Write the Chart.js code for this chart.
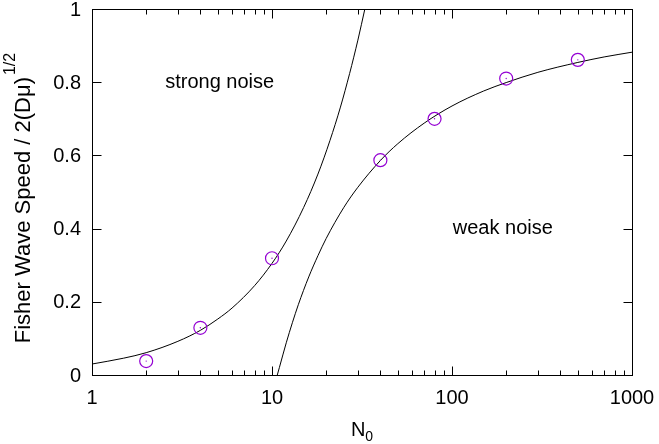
<!DOCTYPE html>
<html>
<head>
<meta charset="utf-8">
<script src="https://cdn.jsdelivr.net/npm/chart.js@4.4.1/dist/chart.umd.min.js"></script>
<style>
  html, body { margin: 0; padding: 0; background: #fff; }
</style>
</head>
<body>
<canvas id="chart" width="659" height="444"></canvas>
<script>
// measured points (purple circles)
const measuredN = [2, 4, 10, 40, 80, 200, 500];
const measuredSpeed = [0.038, 0.129, 0.319, 0.587, 0.700, 0.810, 0.861];

// strong noise curve
const strongN = [1, 1.5, 2, 3, 4, 5, 6, 8, 10, 12, 15, 18, 21, 24, 27, 30, 32.8];
const strongSpeed = [0.030, 0.046, 0.061, 0.092, 0.122, 0.153, 0.183, 0.244, 0.305, 0.366, 0.458, 0.549, 0.641, 0.732, 0.824, 0.915, 1.0];

// weak noise curve
const weakN = [10.7, 11, 12, 13, 14, 16, 18, 20, 25, 30, 40, 50, 70, 100, 150, 200, 300, 500, 700, 1000];
const weakSpeed = [0, 0.021, 0.088, 0.144, 0.192, 0.268, 0.326, 0.373, 0.457, 0.513, 0.586, 0.632, 0.688, 0.735, 0.776, 0.799, 0.827, 0.854, 0.869, 0.882];

// axis ticks
const xMajorTicks = [1, 10, 100, 1000];
const xTickLabels = ['1', '10', '100', '1000'];
const yTicks = [0, 0.2, 0.4, 0.6, 0.8, 1];
const yTickLabels = ['0', '0.2', '0.4', '0.6', '0.8', '1'];

const FONT = '"Liberation Sans", Arial, Helvetica, sans-serif';
const PURPLE = '#9400d3';

function toXY(xs, ys) {
    return xs.map((v, i) => ({ x: v, y: ys[i] }));
}

const xMinorTicks = [];
xMajorTicks.slice(0, -1).forEach(d => {
    for (let k = 2; k <= 9; k++) xMinorTicks.push(d * k);
});

const framePlugin = {
    id: 'frame',
    afterDraw(chart) {
        const { ctx, chartArea: a, scales: { x, y } } = chart;
        ctx.save();
        ctx.strokeStyle = '#000';
        ctx.lineWidth = 1;

        const L = Math.round(a.left) + 0.5;
        const R = Math.round(a.right) + 0.5;
        const T = Math.round(a.top) + 0.5;
        const B = Math.round(a.bottom) + 0.5;

        ctx.beginPath();
        // x ticks, bottom and top, pointing inward
        xMajorTicks.forEach(v => {
            const px = Math.round(x.getPixelForValue(v)) + 0.5;
            ctx.moveTo(px, B); ctx.lineTo(px, B - 9);
            ctx.moveTo(px, T); ctx.lineTo(px, T + 9);
        });
        xMinorTicks.forEach(v => {
            const px = Math.round(x.getPixelForValue(v)) + 0.5;
            ctx.moveTo(px, B); ctx.lineTo(px, B - 5);
            ctx.moveTo(px, T); ctx.lineTo(px, T + 5);
        });
        // y ticks, left and right
        yTicks.forEach(v => {
            const py = Math.round(y.getPixelForValue(v)) + 0.5;
            ctx.moveTo(L, py); ctx.lineTo(L + 9, py);
            ctx.moveTo(R, py); ctx.lineTo(R - 9, py);
        });
        ctx.stroke();
        ctx.strokeRect(L, T, R - L, B - T);

        // tick labels
        ctx.fillStyle = '#000';
        ctx.font = '20px ' + FONT;
        ctx.textAlign = 'right';
        ctx.textBaseline = 'middle';
        yTicks.forEach((v, i) => {
            ctx.fillText(yTickLabels[i], a.left - 11, y.getPixelForValue(v) + 1);
        });
        ctx.textAlign = 'center';
        xMajorTicks.forEach((v, i) => {
            ctx.fillText(xTickLabels[i], x.getPixelForValue(v), a.bottom + 23);
        });

        // x title: N0
        const cx = (a.left + a.right) / 2;
        ctx.font = '20px ' + FONT;
        const wN = ctx.measureText('N').width;
        ctx.font = '14px ' + FONT;
        const w0 = ctx.measureText('0').width;
        let sx = cx - (wN + w0) / 2;
        ctx.textAlign = 'left';
        ctx.font = '20px ' + FONT;
        ctx.fillText('N', sx, a.bottom + 55);
        ctx.font = '14px ' + FONT;
        ctx.fillText('0', sx + wN, a.bottom + 62);

        // y title, rotated, with superscript 1/2
        const main = 'Fisher Wave Speed / 2(D\u03bc)';
        ctx.font = '22px ' + FONT;
        const wMain = ctx.measureText(main).width;
        ctx.font = '16px ' + FONT;
        const wSup = ctx.measureText('1/2').width;
        ctx.translate(30, 198);
        ctx.rotate(-Math.PI / 2);
        ctx.textBaseline = 'alphabetic';
        const start = -(wMain + wSup + 2) / 2;
        ctx.font = '22px ' + FONT;
        ctx.fillText(main, start, 0);
        ctx.font = '16px ' + FONT;
        ctx.fillText('1/2', start + wMain + 2, -15);
        ctx.setTransform(1, 0, 0, 1, 0, 0);

        // region labels
        ctx.textBaseline = 'middle';
        ctx.font = '20px ' + FONT;
        ctx.textAlign = 'left';
        ctx.fillText('strong noise', x.getPixelForValue(2.55), y.getPixelForValue(0.8));
        ctx.fillText('weak noise', x.getPixelForValue(101), y.getPixelForValue(0.4));

        ctx.restore();
    }
};

new Chart(document.getElementById('chart').getContext('2d'), {
    type: 'scatter',
    data: {
        datasets: [
            {
                label: 'strong noise',
                type: 'line',
                data: toXY(strongN, strongSpeed),
                borderColor: '#000',
                borderWidth: 1,
                pointRadius: 0,
                fill: false,
                cubicInterpolationMode: 'monotone',
                order: 3
            },
            {
                label: 'weak noise',
                type: 'line',
                data: toXY(weakN, weakSpeed),
                borderColor: '#000',
                borderWidth: 1,
                pointRadius: 0,
                fill: false,
                cubicInterpolationMode: 'monotone',
                order: 2
            },
            {
                label: 'simulation',
                data: toXY(measuredN, measuredSpeed),
                pointStyle: 'circle',
                pointRadius: 6.5,
                borderColor: PURPLE,
                borderWidth: 1.2,
                backgroundColor: 'rgba(0,0,0,0)',
                order: 1
            },
            {
                label: 'simulation centres',
                data: toXY(measuredN, measuredSpeed),
                pointStyle: 'circle',
                pointRadius: 0.7,
                borderWidth: 0,
                backgroundColor: PURPLE,
                order: 0
            }
        ]
    },
    options: {
        responsive: false,
        animation: false,
        devicePixelRatio: 1,
        layout: { padding: { left: 92, right: 27, top: 9, bottom: 69 } },
        plugins: {
            legend: { display: false },
            tooltip: { enabled: false }
        },
        scales: {
            x: { type: 'logarithmic', min: 1, max: 1000, display: false },
            y: { type: 'linear', min: 0, max: 1, display: false }
        }
    },
    plugins: [framePlugin]
});
</script>
</body>
</html>
